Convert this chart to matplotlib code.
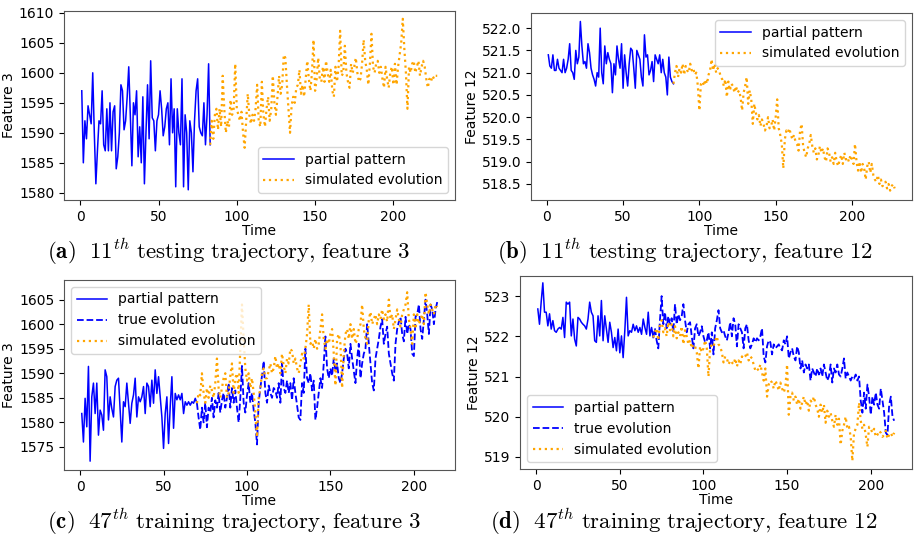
import numpy as np
import matplotlib
matplotlib.use("Agg")
import matplotlib.pyplot as plt
from matplotlib.ticker import FormatStrFormatter

plt.rcParams['mathtext.fontset'] = 'cm'

# ---------------- data ----------------
# (a) 11th testing trajectory, feature 3
a_partial = [1597, 1585, 1592, 1589, 1594.5, 1593, 1591.5, 1600, 1590, 1581.5,
             1587, 1592, 1591.5, 1597, 1588, 1587, 1594, 1587, 1595, 1587,
             1593.5, 1594.5, 1584, 1586, 1590, 1598, 1597, 1590.5, 1592, 1596,
             1601, 1593, 1584.5, 1595, 1593, 1597, 1586, 1591, 1585, 1596,
             1581.5, 1590, 1598, 1589, 1602, 1592.5, 1592, 1587, 1592, 1593,
             1597, 1594, 1589.5, 1591, 1594, 1595, 1588, 1599, 1590, 1594,
             1581, 1594, 1590, 1588, 1599, 1581, 1593, 1590, 1580.5, 1592,
             1590, 1583.5, 1592, 1597, 1599, 1591, 1590, 1589.5, 1595, 1588,
             1593, 1601.5, 1588]
a_sim = [1588, 1592, 1589, 1593,
         1594, 1590.5, 1594, 1591, 1599.5, 1594, 1590, 1592, 1591, 1595.5,
         1593, 1594, 1601.5, 1594, 1593, 1592, 1593.5, 1590, 1587.5, 1592,
         1596.5, 1593, 1591.5, 1593, 1592, 1594, 1598, 1592, 1591, 1598.5,
         1593, 1591, 1594, 1596, 1592, 1594, 1599.5, 1595, 1593, 1596,
         1599.5, 1596.5, 1598, 1603, 1602.5, 1598, 1594, 1590, 1594.5, 1596,
         1595, 1597.5, 1598, 1600.5, 1596.5, 1598, 1596, 1599, 1602, 1599,
         1597, 1600, 1605.5, 1597, 1599, 1602.5, 1599, 1598.5, 1601, 1598.5,
         1602, 1600, 1598.5, 1600.5, 1597, 1596, 1601, 1598.5, 1601, 1607,
         1599.5, 1600, 1604.5, 1600, 1598.5, 1597.5, 1601.5, 1600, 1601, 1602.5,
         1600, 1598.5, 1599, 1601.5, 1605.5, 1602, 1600.5, 1598, 1601.5, 1606.5,
         1601, 1600, 1601.5, 1602, 1600, 1601, 1599, 1597.5, 1601, 1599,
         1597.5, 1600, 1601, 1598, 1601.5, 1598, 1601, 1603, 1605, 1609,
         1604, 1600, 1594, 1601, 1600, 1601.5, 1602, 1600, 1601, 1602,
         1599.5, 1601, 1602, 1601, 1599, 1597.5, 1599, 1598.5, 1599.5, 1599,
         1599.5, 1599.5]

# (b) 11th testing trajectory, feature 12
b_partial = [521.4, 521.15, 521.1, 521.4, 521.05, 521.05, 521.3, 521.1, 521.05, 521.0,
             521.3, 521.0, 521.1, 521.3, 521.65, 521.05, 521.0, 520.85, 521.5, 521.2,
             521.35, 522.15, 521.6, 521.2, 521.25, 521.1, 521.65, 521.45, 521.1, 520.95,
             520.85, 520.7, 521.0, 520.9, 522.0, 521.0, 520.75, 521.6, 521.2, 521.45,
             521.3, 521.2, 520.55, 521.2, 520.95, 521.6, 521.3, 521.1, 521.65, 520.65,
             521.4, 521.0, 520.7, 521.2, 521.55, 521.5, 521.1, 520.65, 521.5, 521.4,
             521.3, 520.9, 520.7, 521.85, 521.35, 521.4, 520.95, 521.05, 521.25, 520.8,
             521.4, 521.3, 521.2, 521.4, 521.0, 521.3, 521.0, 520.9, 520.5, 521.35,
             520.9, 520.8, 520.75]
b_sim = [520.75, 521.0, 521.15, 520.9, 521.1, 521.0, 521.2, 520.95, 521.15, 521.05,
         521.0, 521.2, 521.05, 521.1, 520.95, 521.0, 520.7, 520.15, 520.75, 520.8,
         520.7, 520.85, 520.75, 520.95, 521.05, 521.3, 521.05, 521.2, 521.0, 521.1,
         521.05, 520.9, 520.85, 520.7, 520.85, 520.45, 520.8, 520.6, 520.75, 520.7,
         520.55, 520.7, 520.55, 520.6, 520.45, 520.15, 520.55, 520.7, 520.9, 520.3,
         520.6, 520.4, 519.85, 520.3, 520.1, 519.95, 520.05, 519.8, 519.95, 519.85,
         519.7, 519.8, 520.0, 519.75, 519.8, 519.95, 519.7, 520.0, 520.4, 519.75,
         519.6, 519.4, 518.85, 519.5, 519.7, 519.65, 519.75, 519.6, 519.5, 519.6,
         519.45, 519.4, 519.25, 519.7, 519.85, 519.35, 519.2, 519.1, 519.3, 519.4,
         519.6, 519.35, 519.2, 519.3, 519.05, 519.15, 519.35, 519.2, 519.3, 519.1,
         519.0, 519.3, 519.2, 519.0, 519.1, 518.95, 519.2, 519.0, 518.9, 519.05,
         519.15, 518.95, 519.2, 519.05, 519.1, 519.0, 519.15, 519.05, 518.95, 519.4,
         519.0, 518.8, 519.0, 518.75, 518.95, 518.85, 518.6, 518.9, 519.0, 518.75,
         518.95, 518.7, 518.6, 518.55, 518.7, 518.5, 518.6, 518.45, 518.5, 518.55,
         518.4, 518.5, 518.35, 518.45, 518.5, 518.4]

# (c) 47th training trajectory, feature 3
c_partial = [1581.8, 1576, 1584.9, 1579.1, 1591.4, 1572.1, 1585.2, 1588, 1581.8, 1588,
             1577.4, 1582.5, 1581.5, 1578.4, 1590.7, 1589.3, 1580.5, 1585.2, 1582.8, 1581.1,
             1587.3, 1588.6, 1589, 1582.5, 1576, 1584.2, 1583.2, 1588, 1583.9, 1579.8,
             1583.9, 1585.6, 1589, 1581.1, 1585.2, 1584.2, 1585.2, 1587.3, 1581.8, 1588,
             1587.3, 1583.2, 1588.6, 1583.9, 1590.7, 1585.9, 1589.3, 1585.2, 1581.1, 1574.7,
             1581.8, 1585.2, 1575.7, 1583.2, 1589.3, 1578.8, 1585.9, 1584.6, 1585.6, 1584.6,
             1585.9, 1581.8, 1584.2, 1583.5, 1584.2, 1583.5, 1584.2, 1583.9, 1584.9, 1583.9]
c_true = [1583.9, 1581, 1578.5, 1583, 1580, 1584, 1579, 1583, 1582, 1585,
          1581, 1584.5, 1583, 1586, 1582, 1584.5, 1586, 1583, 1585, 1588,
          1583, 1587, 1584, 1586.5, 1583, 1580, 1585, 1591.5, 1584, 1582,
          1585.5, 1588, 1584, 1586, 1582.5, 1580, 1575.5, 1584, 1587, 1589.5,
          1592.5, 1586, 1584, 1587.5, 1586, 1585, 1587, 1586.5, 1585, 1588,
          1584, 1592, 1587, 1586, 1588.5, 1586, 1588, 1584.5, 1589, 1586,
          1583.5, 1581, 1580.5, 1588, 1586, 1595, 1589, 1588, 1590, 1586.5,
          1588.5, 1580.5, 1583, 1586, 1589, 1587, 1592, 1597.5, 1591, 1589,
          1591, 1589.5, 1593, 1590.5, 1592, 1589, 1588, 1590, 1593, 1595,
          1594, 1591, 1596, 1593, 1590.5, 1588, 1593, 1596, 1589, 1592,
          1594, 1595, 1600, 1596, 1592, 1588, 1586.5, 1593, 1595, 1597,
          1599.5, 1601, 1596, 1598, 1599.5, 1594, 1592, 1590, 1588.5, 1596,
          1599, 1600.5, 1601.5, 1598, 1596.5, 1601.5, 1598, 1600, 1599, 1594,
          1593.5, 1601.5, 1602, 1604, 1599, 1597, 1601, 1605, 1602, 1598,
          1604, 1603, 1600, 1603, 1604.5]
c_sim = [1583.9, 1586, 1585.5, 1590, 1586, 1584, 1587, 1585, 1587.5, 1586.5,
         1585, 1588, 1593, 1587, 1585, 1587, 1589, 1590, 1585, 1586,
         1589.5, 1592, 1586, 1589, 1590, 1586, 1595, 1604, 1597, 1591,
         1588.5, 1590, 1587, 1589, 1586, 1582, 1577, 1585, 1587, 1590,
         1591, 1589, 1589, 1590.5, 1592, 1590, 1591, 1593.5, 1591, 1592,
         1590, 1594, 1591.5, 1590, 1593, 1592, 1595, 1594.5, 1592, 1593,
         1591, 1590, 1592, 1594, 1593, 1595, 1598, 1604, 1596, 1596.5,
         1595, 1597, 1595, 1596, 1599, 1602, 1597, 1595, 1597, 1596,
         1598, 1599, 1594, 1587.5, 1597, 1598, 1596, 1587, 1594, 1598,
         1599, 1597, 1600, 1597, 1599, 1596, 1597, 1599, 1600, 1604,
         1599, 1597, 1596, 1601, 1602.5, 1600, 1601, 1602, 1600, 1602,
         1601, 1603, 1601, 1602, 1600.5, 1605, 1601, 1602, 1599, 1601,
         1603, 1601, 1599.5, 1602, 1603, 1604, 1606.5, 1601, 1599, 1596,
         1602, 1599, 1602, 1600, 1601, 1602, 1600, 1606.5, 1604, 1602,
         1604, 1603, 1602, 1604, 1603.5]

# (d) 47th training trajectory, feature 12
d_partial = [522.68, 522.3, 522.85, 523.33, 522.6, 522.6, 522.26, 522.56, 522.18, 522.39,
             522.14, 522.1, 522.18, 522.22, 522.18, 522.47, 521.97, 522.85, 522.8, 522.85,
             522.01, 522.43, 521.93, 521.76, 522.47, 522.43, 522.35, 522.3, 522.26, 522.18,
             522.43, 522.85, 522.6, 522.51, 521.89, 521.85, 522.51, 522.01, 522.89, 521.89,
             522.51, 522.18, 521.85, 522.35, 522.1, 521.72, 521.97, 521.64, 522.18, 521.59,
             522.01, 521.47, 522.14, 522.97, 522.01, 522.14, 522.1, 522.3, 522.14, 522.26,
             522.1, 522.22, 522.05, 522.43, 522.22, 522.05, 522.6, 522.01, 522.22, 521.97]
d_true = [521.97, 522.2, 521.9, 521.7, 522.4, 523.0, 522.3, 522.6, 522.2, 522.5,
          522.3, 522.45, 522.1, 522.8, 522.3, 522.55, 522.4, 522.5, 522.8, 522.4,
          522.1, 522.3, 522.35, 522.0, 521.7, 522.2, 522.3, 522.0, 522.1, 522.25,
          522.0, 521.85, 521.9, 522.1, 521.7, 522.1, 521.55, 522.2, 522.4, 522.65,
          522.2, 522.1, 522.15, 522.0, 521.9, 522.1, 522.35, 522.0, 522.45, 522.3,
          521.75, 522.3, 522.2, 522.1, 521.7, 522.2, 522.3, 521.9, 521.7, 521.8,
          521.95, 521.85, 521.95, 521.9, 522.0, 522.2, 521.5, 521.35, 521.75, 521.9,
          521.85, 521.55, 521.8, 521.7, 521.75, 521.8, 521.7, 521.65, 521.9, 521.8,
          522.0, 521.45, 521.6, 521.7, 521.5, 521.4, 521.75, 521.6, 521.2, 521.4,
          521.1, 521.3, 521.2, 521.3, 520.9, 521.2, 521.1, 521.0, 521.2, 521.05,
          521.2, 521.0, 521.3, 521.1, 520.9, 521.0, 521.3, 520.85, 521.2, 521.1,
          521.3, 521.05, 521.0, 521.2, 521.45, 520.95, 521.1, 521.0, 520.9, 521.0,
          520.95, 521.05, 520.9, 521.0, 520.4, 520.1, 520.6, 520.2, 520.8, 520.5,
          520.05, 520.5, 520.3, 520.6, 520.3, 520.2, 520.7, 520.4, 520.1, 519.6,
          519.55, 520.3, 520.5, 520.0, 519.9]
d_sim = [521.97, 522.1, 522.2, 521.9, 522.3, 522.4, 522.1, 522.2, 522.0, 522.35,
         522.15, 522.3, 522.0, 522.25, 521.95, 522.1, 522.0, 522.25, 521.8, 522.15,
         522.0, 521.8, 521.9, 521.7, 521.8, 521.75, 521.6, 521.2, 521.75, 521.6,
         521.7, 521.9, 521.7, 521.0, 521.7, 521.8, 521.75, 521.9, 522.0, 521.8,
         521.75, 521.6, 521.35, 521.5, 521.45, 521.3, 521.4, 521.35, 521.3, 521.45,
         521.25, 521.4, 521.3, 521.5, 521.45, 521.5, 521.6, 521.4, 521.5, 521.45,
         521.3, 521.15, 521.2, 521.15, 521.3, 521.1, 520.9, 521.2, 520.5, 520.8,
         520.9, 520.85, 520.7, 520.9, 520.8, 520.65, 520.85, 520.7, 520.6, 520.75,
         521.3, 520.05, 520.5, 520.6, 520.4, 520.5, 520.3, 520.45, 520.2, 520.35,
         520.5, 520.3, 520.4, 520.15, 520.4, 520.35, 520.5, 520.3, 520.2, 520.0,
         520.3, 520.1, 520.3, 519.85, 520.15, 520.0, 520.1, 519.9, 519.75, 520.05,
         519.8, 519.95, 519.3, 519.65, 519.8, 520.0, 519.7, 519.75, 519.5, 518.9,
         519.6, 519.7, 519.8, 520.35, 519.9, 519.7, 519.8, 519.55, 519.25, 519.75,
         519.7, 519.6, 519.7, 519.5, 519.55, 519.65, 519.6, 519.5, 519.55, 519.65,
         519.45, 519.55, 519.6, 519.5, 519.6]

a_yticks = [1580, 1585, 1590, 1595, 1600, 1605, 1610]
b_yticks = [518.5, 519.0, 519.5, 520.0, 520.5, 521.0, 521.5, 522.0]
c_yticks = [1575, 1580, 1585, 1590, 1595, 1600, 1605]
d_yticks = [519, 520, 521, 522, 523]

captions = [r"$\mathbf{(a)}\ \ 11^{th}\ \mathrm{testing\ trajectory{,}\ feature\ 3}$",
            r"$\mathbf{(b)}\ \ 11^{th}\ \mathrm{testing\ trajectory{,}\ feature\ 12}$",
            r"$\mathbf{(c)}\ \ 47^{th}\ \mathrm{training\ trajectory{,}\ feature\ 3}$",
            r"$\mathbf{(d)}\ \ 47^{th}\ \mathrm{training\ trajectory{,}\ feature\ 12}$"]

# ---------------- figure ----------------
W, H = 914, 539
fig = plt.figure(figsize=(W / 100, H / 100), dpi=100)

def px_axes(l, t, r, b):
    return fig.add_axes([l / W, 1 - b / H, (r - l) / W, (b - t) / H])

ax_a = px_axes(64, 11, 455, 200)
ax_b = px_axes(531, 13, 912, 200)
ax_c = px_axes(64, 280, 455, 470)
ax_d = px_axes(520, 276, 912, 469)

FS = 10
BLUE = 'blue'
ORANGE = 'orange'

def plot_panel(ax, partial, sim, true=None, loc='best', yticks=None, ylabel='', ylim=None, fmt=None):
    n0 = len(partial)
    xp = np.arange(1, n0 + 1)
    ax.plot(xp, partial, color=BLUE, lw=1.1, label='partial pattern')
    xs = np.arange(n0, n0 + len(sim))
    if true is not None:
        xt = np.arange(n0, n0 + len(true))
        ax.plot(xt, true, color=BLUE, lw=1.3, ls='--', label='true evolution')
    ax.plot(xs, sim, color=ORANGE, lw=1.6, ls=':', label='simulated evolution')
    ax.set_xticks([0, 50, 100, 150, 200])
    ax.set_yticks(yticks)
    if fmt:
        ax.yaxis.set_major_formatter(FormatStrFormatter(fmt))
    if ylim:
        ax.set_ylim(*ylim)
    ax.tick_params(labelsize=FS)
    ax.set_xlabel('Time', fontsize=FS, labelpad=0)
    ax.set_ylabel(ylabel, fontsize=FS, labelpad=2)
    ax.legend(loc=loc, fontsize=FS, handlelength=2.2)
    for s in ax.spines.values():
        s.set_color('#555555')

plot_panel(ax_a, a_partial, a_sim, loc='lower right', yticks=a_yticks,
           ylabel='Feature 3', ylim=(1578.8, 1610.3))
plot_panel(ax_b, b_partial, b_sim, loc='upper right', yticks=b_yticks,
           ylabel='Feature 12', ylim=(518.14, 522.34), fmt='%.1f')
plot_panel(ax_c, c_partial, c_sim, true=c_true, loc='upper left', yticks=c_yticks,
           ylabel='Feature 3', ylim=(1570.3, 1609.0))
plot_panel(ax_d, d_partial, d_sim, true=d_true, loc='lower left', yticks=d_yticks,
           ylabel='Feature 12', ylim=(518.7, 523.5))

CFS = 16.5
fig.text(47 / W, 1 - 259 / H, captions[0], ha='left', va='baseline', fontsize=CFS)
fig.text(497 / W, 1 - 259 / H, captions[1], ha='left', va='baseline', fontsize=CFS)
fig.text(47 / W, 1 - 529 / H, captions[2], ha='left', va='baseline', fontsize=CFS)
fig.text(490 / W, 1 - 529 / H, captions[3], ha='left', va='baseline', fontsize=CFS)

fig.savefig('out.png', dpi=100)
